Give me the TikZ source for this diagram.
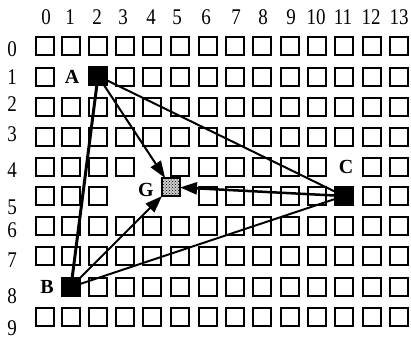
\documentclass[tikz,border=0pt]{standalone}
\usepackage{fontspec}
\setmainfont{Liberation Serif}
\usetikzlibrary{arrows.meta,patterns}
\begin{document}
\begin{tikzpicture}[x=1pt,y=-1pt,
  cell/.style={draw=black,line width=2.8pt,minimum size=18pt,inner sep=0pt,outer sep=0pt},
  filledcell/.style={cell,fill=black},
  num/.style={font=\fontsize{19}{19}\selectfont,inner sep=0pt},
  lab/.style={font=\fontsize{20}{20}\selectfont\bfseries,inner sep=0pt},
  edgeline/.style={line width=2pt},
  arr/.style={line width=2pt,-{Triangle[length=17pt,width=12pt]}}
]
\useasboundingbox (0,0) rectangle (411,339);
% grid of boxes
\foreach \px [count=\c from 0] in {45,71,98,125,152,180,208,235,262,290,317,344,372,399}{
  \foreach \py [count=\r from 0] in {46,77,107,137,167,196,226,256,287,317}{
    \edef\key{\c-\r}
    \gdef\skipit{0}
    \foreach \s in {1-1,2-1,4-4,11-4,3-5,4-5,5-5,0-8,1-8,11-5}{
      \edef\cand{\s}
      \ifx\cand\key\gdef\skipit{1}\fi
    }
    \ifnum\skipit=0
      \node[cell] (b\c-\r) at (\px,\py) {};
    \fi
  }
}
% column numbers
\foreach \px [count=\c from 0] in {46,70,97,123,151,177,206,236,263,291,316,343,371,399}{
  \node[num] (col\c) at (\px,17) {\scalebox{1}[1.18]{\c}};
}
% row numbers
\foreach \py [count=\r from 0] in {49,77,104,134,170,207,230,260,296,328}{
  \node[num] (row\r) at (12,\py) {\scalebox{1}[1.18]{\r}};
}
% special boxes
\node[filledcell] (A) at (98,76) {};
\node[filledcell] (B) at (71,287) {};
\node[filledcell] (C) at (344,196) {};
\node[cell,fill=gray!40,postaction={pattern=crosshatch dots}] (G) at (171,187) {};
% letter labels
\node[lab] (lA) at (72,77) {A};
\node[lab] (lB) at (47,287) {B};
\node[lab] (lC) at (346,167) {C};
\node[lab] (lG) at (146,190) {G};
% triangle
\draw[line width=3pt] (A) -- (B);
\draw[edgeline] (A) -- (C);
\draw[edgeline] (B) -- (C);
% arrows to centroid
\draw[arr] (A) -- (G);
\draw[arr] (B) -- (G);
\draw[arr,line width=2.5pt] (C) -- (G);
\end{tikzpicture}
\end{document}
